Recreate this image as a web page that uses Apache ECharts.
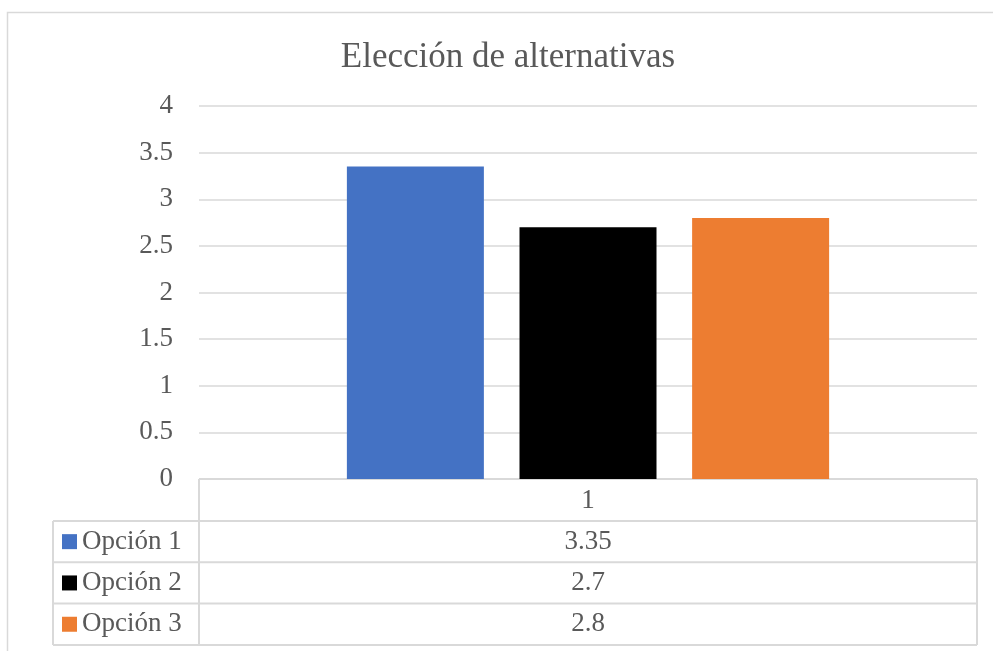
<!DOCTYPE html>
<html>
<head>
<meta charset="utf-8">
<script src="https://cdn.jsdelivr.net/npm/echarts@6/dist/echarts.min.js"></script>
<style>
  html, body { margin: 0; padding: 0; background: #fff; }
  #chart { width: 993px; height: 651px; }
</style>
</head>
<body>
<div id="chart"></div>
<script>
// data
var categories = ['1'];
var seriesNames = ['Opción 1', 'Opción 2', 'Opción 3'];
var opcion1 = [3.35];
var opcion2 = [2.7];
var opcion3 = [2.8];
var colors = ['#4472c4', '#000000', '#ed7d31'];

var seriesValues = [opcion1, opcion2, opcion3];
var font = '"Liberation Serif", "Times New Roman", serif';
var txt = '#595959';
var line = '#d9d9d9';
var fs = 27;

var chart = echarts.init(document.getElementById('chart'));

// plot box
var L = 199, R = 977, T = 106, B = 479;
var rowH = 41.3;

var graphics = [];
// outer chart border
graphics.push({ type: 'rect', shape: { x: 7.5, y: 12.5, width: 1000, height: 700 },
  style: { fill: null, stroke: line, lineWidth: 1.5 }, silent: true });

// data table lines
function hline(x1, x2, y) {
  graphics.push({ type: 'line', shape: { x1: x1, y1: y, x2: x2, y2: y },
    style: { stroke: line, lineWidth: 2 }, silent: true });
}
function vline(x, y1, y2) {
  graphics.push({ type: 'line', shape: { x1: x, y1: y1, x2: x, y2: y2 },
    style: { stroke: line, lineWidth: 2 }, silent: true });
}
var tableLeft = 53;
var rowTop = B + 42;
hline(L, R, B);
for (var i = 0; i <= seriesNames.length; i++) {
  hline(tableLeft, R, rowTop + i * rowH);
}
var tableBottom = rowTop + seriesNames.length * rowH;
vline(tableLeft, rowTop, tableBottom);
vline(L, B, tableBottom);
vline(R, B, tableBottom);

// values in the table
var midX = (L + R) / 2;
seriesValues.forEach(function (vals, si) {
  graphics.push({ type: 'text', x: midX, y: rowTop + si * rowH + rowH / 2,
    style: { text: String(vals[0]), font: fs + 'px ' + font, fill: txt,
      textAlign: 'center', textVerticalAlign: 'middle' }, silent: true });
});

chart.setOption({
  animation: false,
  color: colors,
  title: {
    text: 'Elección de alternativas',
    left: 503, top: 35, textAlign: 'center',
    textStyle: { fontFamily: font, fontSize: 35, fontWeight: 'normal', color: txt }
  },
  legend: {
    orient: 'vertical',
    left: 62, top: rowTop + rowH / 2 - fs / 2,
    padding: 0,
    itemGap: rowH - fs,
    itemWidth: 15, itemHeight: 15,
    icon: 'rect',
    selectedMode: false,
    textStyle: { fontFamily: font, fontSize: fs, color: txt, lineHeight: fs },
    data: seriesNames
  },
  grid: { left: L, right: 993 - R, top: T, bottom: 651 - B },
  xAxis: {
    type: 'category',
    data: categories,
    axisLine: { show: false },
    axisTick: { show: false },
    axisLabel: { fontFamily: font, fontSize: fs, color: txt, margin: 8 }
  },
  yAxis: {
    type: 'value',
    min: 0, max: 4, interval: 0.5,
    axisLine: { show: false },
    axisTick: { show: false },
    axisLabel: { fontFamily: font, fontSize: fs, color: txt, margin: 26 },
    splitLine: { lineStyle: { color: line, width: 1.5 } }
  },
  series: seriesNames.map(function (name, si) {
    return {
      name: name,
      type: 'bar',
      data: seriesValues[si],
      barWidth: 137,
      barGap: '26%',
      itemStyle: { color: colors[si] }
    };
  }),
  graphic: graphics
});
</script>
</body>
</html>
